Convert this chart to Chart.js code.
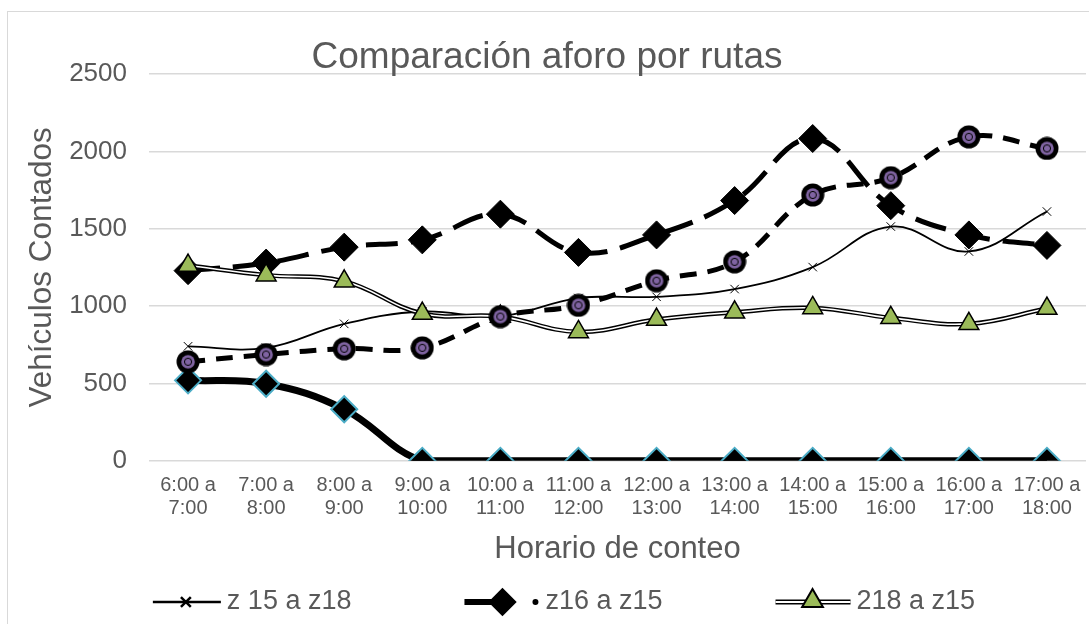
<!DOCTYPE html>
<html>
<head>
<meta charset="utf-8">
<script src="https://cdn.jsdelivr.net/npm/chart.js@4.4.1/dist/chart.umd.min.js"></script>
<style>
  html, body { margin: 0; padding: 0; background: #fff; overflow: hidden; }
  #box { position: absolute; left: 7px; top: 11px; width: 1098px; height: 638px; border: 1px solid #d9d9d9; }
</style>
</head>
<body>
<div id="box"><canvas id="aforoChart"></canvas></div>
<script>
const horarios = [
    ['6:00 a', '7:00'], ['7:00 a', '8:00'], ['8:00 a', '9:00'], ['9:00 a', '10:00'],
    ['10:00 a', '11:00'], ['11:00 a', '12:00'], ['12:00 a', '13:00'], ['13:00 a', '14:00'],
    ['14:00 a', '15:00'], ['15:00 a', '16:00'], ['16:00 a', '17:00'], ['17:00 a', '18:00']
];
const z15aZ18 = [740, 730, 885, 965, 934, 1052, 1060, 1110, 1252, 1514, 1353, 1611];
const z16aZ15 = [1229, 1278, 1381, 1428, 1594, 1347, 1460, 1682, 2083, 1649, 1460, 1392];
const r218aZ15 = [1262, 1200, 1160, 952, 932, 833, 913, 960, 988, 924, 885, 984];
const z18aZ16 = [520, 498, 333, 0, 0, 0, 0, 0, 0, 0, 0, 0];
const z15aZ16 = [640, 687, 724, 730, 932, 1005, 1164, 1286, 1718, 1830, 2094, 2019];
const yTicks = [0, 500, 1000, 1500, 2000, 2500];

const gris = '#595959';
const verde = '#9bbb59';
const morado = '#8064a2';
const cian = '#4bacc6';

// marcador circular negro con centro morado
const circuloMorado = document.createElement('canvas');
circuloMorado.width = 24; circuloMorado.height = 24;
(() => {
    const c = circuloMorado.getContext('2d');
    c.fillStyle = '#000';
    c.beginPath(); c.arc(12, 12, 11.5, 0, Math.PI * 2); c.fill();
    c.fillStyle = morado;
    c.beginPath(); c.arc(12, 12, 6.8, 0, Math.PI * 2); c.fill();
    c.strokeStyle = '#000'; c.lineWidth = 1;
    c.beginPath(); c.arc(12, 12, 3.6, 0, Math.PI * 2); c.stroke();
})();

const leyenda = [
    { text: 'z 15 a z18', w: 68, draw(ctx, x, y) {
        ctx.strokeStyle = '#000'; ctx.lineWidth = 2.5;
        ctx.beginPath(); ctx.moveTo(x, y); ctx.lineTo(x + 68, y); ctx.stroke();
        Chart.helpers.drawPoint(ctx, { pointStyle: 'crossRot', radius: 7, borderWidth: 1.2 }, x + 33, y);
    } },
    { text: 'z16 a z15', w: 75, draw(ctx, x, y) {
        ctx.strokeStyle = '#000'; ctx.fillStyle = '#000'; ctx.lineWidth = 6;
        ctx.beginPath(); ctx.moveTo(x, y); ctx.lineTo(x + 38, y); ctx.stroke();
        Chart.helpers.drawPoint(ctx, { pointStyle: 'rectRot', radius: 10, borderWidth: 1 }, x + 38, y);
        ctx.fill();
        ctx.beginPath(); ctx.arc(x + 71, y, 3, 0, Math.PI * 2); ctx.fill();
    } },
    { text: '218 a z15', w: 75, draw(ctx, x, y) {
        ctx.strokeStyle = '#000'; ctx.lineWidth = 5;
        ctx.beginPath(); ctx.moveTo(x, y); ctx.lineTo(x + 75, y); ctx.stroke();
        ctx.strokeStyle = '#fff'; ctx.lineWidth = 2;
        ctx.beginPath(); ctx.moveTo(x, y); ctx.lineTo(x + 75, y); ctx.stroke();
        ctx.strokeStyle = '#000'; ctx.fillStyle = verde;
        Chart.helpers.drawPoint(ctx, { pointStyle: 'triangle', radius: 12, borderWidth: 1.5 }, x + 37, y - 1);
    } }
];

const leyendaPlugin = {
    id: 'leyenda',
    afterDraw(chart) {
        const ctx = chart.ctx;
        const y = chart.scales.x.bottom + 34;
        ctx.save();
        ctx.font = '27px "Liberation Sans", Arial, sans-serif';
        const anchos = leyenda.map(it => it.w + 8 + ctx.measureText(it.text).width);
        const total = anchos.reduce((a, b) => a + b, 0) + 111 * (leyenda.length - 1);
        let x = chart.width / 2 - total / 2 + 8;
        leyenda.forEach((it, i) => {
            ctx.save();
            it.draw(ctx, x, y);
            ctx.restore();
            ctx.fillStyle = gris;
            ctx.textBaseline = 'middle';
            ctx.textAlign = 'left';
            ctx.fillText(it.text, x + it.w + 6, y);
            x += anchos[i] + 111;
        });
        ctx.restore();
    }
};

const ctx = document.getElementById('aforoChart').getContext('2d');
const aforoChart = new Chart(ctx, {
    type: 'line',
    data: {
        labels: horarios,
        datasets: [
            {
                label: 'z 15 a z18',
                data: z15aZ18,
                borderColor: '#000',
                borderWidth: 1.8,
                pointStyle: 'crossRot',
                pointRadius: 6,
                pointBorderWidth: 1,
                pointBorderColor: '#000',
                tension: 0.4,
                order: 6
            },
            {
                label: 'z16 a z15',
                data: z16aZ15,
                borderColor: '#000',
                borderWidth: 5,
                borderDash: [32, 13],
                pointStyle: 'rectRot',
                pointRadius: 14,
                pointBackgroundColor: '#000',
                pointBorderColor: '#000',
                pointBorderWidth: 1,
                tension: 0.4,
                order: 5
            },
            {
                label: '218 a z15 borde',
                data: r218aZ15,
                borderColor: '#000',
                borderWidth: 4.5,
                pointRadius: 0,
                tension: 0.4,
                order: 4
            },
            {
                label: '218 a z15',
                data: r218aZ15,
                borderColor: '#fff',
                borderWidth: 1.6,
                pointStyle: 'triangle',
                pointRadius: 11.5,
                pointBackgroundColor: verde,
                pointBorderColor: '#000',
                pointBorderWidth: 1.5,
                tension: 0.4,
                order: 3
            },
            {
                label: 'z18 a z16',
                data: z18aZ16,
                borderColor: '#000',
                borderWidth: 7,
                pointStyle: 'rectRot',
                pointRadius: 13,
                pointBackgroundColor: '#000',
                pointBorderColor: cian,
                pointBorderWidth: 2,
                tension: 0.4,
                order: 2
            },
            {
                label: 'z15 a z16',
                data: z15aZ16,
                borderColor: '#000',
                borderWidth: 5,
                borderDash: [17, 11],
                pointStyle: circuloMorado,
                pointRadius: 12,
                tension: 0.4,
                order: 1
            }
        ]
    },
    options: {
        responsive: true,
        maintainAspectRatio: false,
        animation: false,
        layout: { padding: { left: 0, right: 20, top: 0, bottom: 82 } },
        plugins: {
            legend: { display: false },
            tooltip: { enabled: false },
            title: {
                display: true,
                text: 'Comparación aforo por rutas',
                color: gris,
                font: { family: '"Liberation Sans", Arial, sans-serif', size: 37, weight: 'normal', lineHeight: 1 },
                padding: { top: 27, bottom: -2 }
            }
        },
        scales: {
            x: {
                offset: true,
                grid: { display: false, drawTicks: false },
                border: { display: false },
                ticks: {
                    color: gris,
                    autoSkip: false,
                    maxRotation: 0,
                    minRotation: 0,
                    padding: 13,
                    font: { family: '"Liberation Sans", Arial, sans-serif', size: 20, lineHeight: 1.15 }
                },
                title: {
                    display: true,
                    text: 'Horario de conteo',
                    color: gris,
                    font: { family: '"Liberation Sans", Arial, sans-serif', size: 31, lineHeight: 1.2 },
                    padding: { top: -2, bottom: 0 }
                }
            },
            y: {
                min: 0,
                max: 2500,
                afterFit: (scale) => { scale.width = 141; },
                afterBuildTicks: (scale) => { scale.ticks = yTicks.map(v => ({ value: v })); },
                grid: { color: '#d9d9d9', lineWidth: 1.5, drawTicks: false },
                border: { display: false },
                ticks: {
                    color: gris,
                    padding: 22,
                    callback: (v) => String(v),
                    font: { family: '"Liberation Sans", Arial, sans-serif', size: 26 }
                },
                title: {
                    display: true,
                    text: 'Vehículos Contados',
                    color: gris,
                    font: { family: '"Liberation Sans", Arial, sans-serif', size: 31.5, lineHeight: 1.2 },
                    padding: { top: 15, bottom: 0 }
                }
            }
        }
    },
    plugins: [leyendaPlugin]
});
</script>
</body>
</html>
